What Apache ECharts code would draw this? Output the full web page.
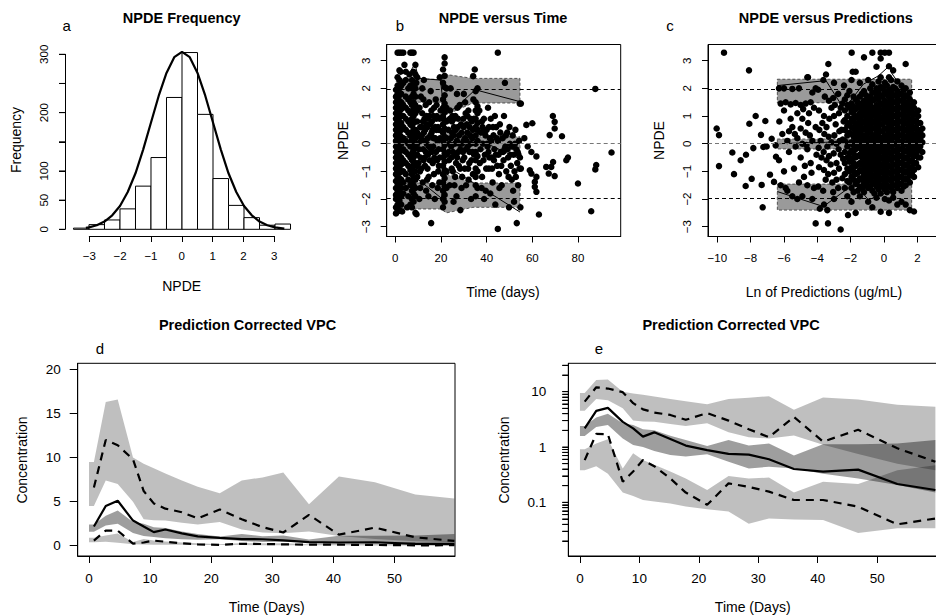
<!DOCTYPE html>
<html><head><meta charset="utf-8">
<script src="https://cdn.jsdelivr.net/npm/echarts@6/dist/echarts.min.js"></script>
<style>html,body{margin:0;padding:0;background:#fff}#c{width:936px;height:615px}</style>
</head><body><div id="c"></div>
<script>
// ---------------- DATA ----------------
// Panel a: NPDE histogram
const histBreaks = [-3.5,-3,-2.5,-2,-1.5,-1,-0.5,0,0.5,1,1.5,2,2.5,3,3.5];
const histCounts = [2,8,16,35,74,123,226,303,197,87,41,20,7,9];
const normCurveX = [-3.1,-3,-2.75,-2.5,-2.25,-2,-1.75,-1.5,-1.25,-1,-0.75,-0.5,-0.25,0,0.25,0.5,0.75,1,1.25,1.5,1.75,2,2.25,2.5,2.75,3,3.3];
const normCurveY = [2.5,3.4,6.9,13.3,24,40,64,96,137,183,229,268,295,304,295,268,229,183,137,96,64,40,24,13.3,6.9,3.4,1.3];
const aXTicks = [-3,-2,-1,0,1,2,3];
const aYTicks = [0,50,100,150,200,250,300];
const aYLabels = [0,50,100,200,300];

// Reference lines for NPDE panels
const npdeRefLines = [1.96, 0, -1.96];
const npdeYTicks = [-3,-2,-1,0,1,2,3];

// Panel b: NPDE vs time
const bXTicks = [0,20,40,60,80];
const bBandX   = [0.45, 20.0, 22.4, 34.0, 54.6];
const bUpperHi = [2.33, 2.33, 2.5, 2.36, 2.36];
const bUpperLo = [1.5, 1.5, 1.05, 1.47, 1.47];
const bMedHi   = [0.25, 0.25, 0.45, 0.25, 0.25];
const bMedLo   = [-0.25, -0.25, -0.45, -0.22, -0.22];
const bLowHi   = [-1.42, -1.42, -1.1, -1.42, -1.42];
const bLowLo   = [-2.36, -2.36, -2.5, -2.3, -2.3];
const bObsUpper  = [[0.45,1.9],[3.5,2.2],[8.6,2.88],[10.2,2.36],[19.8,2.3],[21.5,1.03],[27,1.34],[35,1.95],[54.6,1.52]];
const bObsMedian = [[0.45,0.3],[8.6,0.2],[19.8,0.1],[21.5,0.0],[35,0.05],[37.5,0.1],[54.6,-0.55]];
const bObsLower  = [[0.45,-1.9],[2.1,-1.37],[10.1,-1.3],[20.2,-1.97],[21.5,-1.2],[25.3,-0.95],[54.6,-2.47]];
const bColumns = [
 [0.3, [-2.52,-2.3,-2.0,-1.85,-1.6,-1.35,-1.1,-0.9,-0.7,-0.5,-0.3,-0.1,0.1,0.3,0.5,0.7,0.9,1.1,1.3,1.5,1.7,1.95]],
 [1.0, [-2.45,-2.2,-1.95,-1.7,-1.45,-1.2,-1.0,-0.8,-0.6,-0.4,-0.2,0.0,0.2,0.4,0.6,0.8,1.0,1.2,1.4,1.6,1.8,2.1,2.4,3.29]],
 [1.8, [-2.4,-2.05,-1.75,-1.5,-1.25,-1.05,-0.85,-0.65,-0.45,-0.25,-0.05,0.15,0.35,0.55,0.75,0.95,1.15,1.35,1.55,1.75,2.0,2.3,2.65,3.29]],
 [2.6, [-2.2,-1.9,-1.6,-1.3,-1.0,-0.75,-0.5,-0.25,0,0.25,0.5,0.75,1.0,1.25,1.5,1.8,2.1,3.29]],
 [3.5, [-1.8,-1.4,-1.0,-0.6,-0.2,0.2,0.6,1.0,1.4,2.2,3.29]],
 [4.6, [-1.6,-1.1,-0.7,-0.3,0.1,0.5,0.9,1.3,1.7,2.3,2.6]],
 [5.7, [-1.9,-1.3,-0.8,-0.4,0,0.4,0.8,1.2,1.6,2.0]],
 [6.6, [-2.2,-1.5,-0.95,-0.5,-0.1,0.3,0.7,1.1,1.5,2.1,3.29]],
 [7.3, [-2.3,-2.0,-1.7,-1.4,-1.1,-0.85,-0.6,-0.35,-0.1,0.15,0.4,0.65,0.9,1.15,1.4,1.7,2.0,2.3,3.29]],
 [8.0, [-2.1,-1.8,-1.5,-1.25,-1.0,-0.75,-0.5,-0.25,0,0.25,0.5,0.75,1.0,1.25,1.5,1.8,2.1,2.6,3.29]],
 [8.8, [-2.5,-1.9,-1.6,-1.3,-1.0,-0.7,-0.4,-0.1,0.2,0.5,0.8,1.1,1.4,1.7,2.0,2.5,2.85]],
 [9.6, [-1.2,-0.8,-0.4,0,0.4,0.8,1.2,2.4]],
 [20.9, [-2.3,-2.0,-1.7,-1.4,-1.1,-0.8,-0.5,-0.2,0.1,0.4,0.7,1.0,1.3,1.6,2.2,2.68]],
 [21.6, [-2.1,-1.85,-1.55,-1.25,-0.95,-0.65,-0.35,-0.05,0.25,0.55,0.85,1.15,1.45,1.75,2.05,2.45,2.9,3.12]],
 [22.4, [-1.6,-1.0,-0.4,0.2,0.8,1.3,2.0]],
 [35.2, [-1.9,-1.5,-1.2,-0.9,-0.6,-0.3,0,0.3,0.6,0.9,1.2,1.5,1.9]],
 [36.0, [-1.6,-1.0,-0.45,0.1,0.5,0.75,1.1,1.35,2.0]]
];
const bScatter = [
 [10.5,-2.0],[10.8,-1.0],[11.0,-0.5],[11.3,0.1],[11.5,0.6],[11.8,1.1],[12.2,-0.2],[12.5,0.4],[12.8,0.9],[12.5,2.3],[13.0,-0.8],[13.3,1.4],[13.8,0.0],[14.0,0.6],[14.3,-0.4],[14.6,-1.2],[15.0,1.0],[15.3,0.3],[15.7,-0.2],[15.7,-2.87],[16.0,0.8],[16.4,-0.7],[16.8,0.2],[17.0,1.3],[17.3,-2.0],[17.5,0.6],[17.8,-0.3],[18.2,1.0],[18.5,0.1],[18.8,-1.0],[19.2,0.5],[19.5,2.4],[19.5,-0.5],[13.5,-1.7],[11.8,2.0],[15.5,1.9],[16.2,-1.5],[10.3,0.3],[10.6,1.3],[12.0,-1.4],[13.6,0.7],[14.8,1.5],[16.6,-0.1],[18.0,0.5],[19.0,-0.2],[19.8,1.2],[12.9,-0.5],[14.2,0.2],[17.7,1.6],[18.6,-1.6],[11.2,1.7],[15.9,0.4],[10.2,-0.7],
 [10.4,-0.2],[10.9,0.6],[11.4,-0.9],[11.6,0.3],[12.1,0.8],[12.4,-0.6],[12.7,0.1],[13.1,0.5],[13.4,-0.3],[13.7,1.0],[14.1,-0.9],[14.4,0.9],[14.7,-0.1],[15.1,-0.6],[15.4,0.7],[15.8,1.2],[16.1,-0.3],[16.3,0.5],[16.7,1.0],[17.1,-0.5],[17.4,0.2],[17.9,0.9],[18.3,-0.6],[18.7,0.6],[19.1,-0.8],[19.4,0.9],[19.7,0.2],[10.9,-1.6],[13.9,-1.3],[16.9,-1.1],[18.1,1.4],[12.3,1.6],[14.5,-1.9],[19.3,-1.4],
 [23.3,0.5],[23.5,-0.6],[23.8,-1.5],[24.0,1.2],[24.5,-0.1],[24.8,0.8],[25.2,-1.0],[25.5,0.3],[26.0,-0.4],[26.3,1.0],[26.8,-1.9],[27.0,0.1],[27.4,0.6],[27.8,-0.8],[28.2,1.4],[28.5,-0.2],[29.0,0.4],[29.3,-1.2],[29.8,0.9],[30.2,-0.5],[30.5,0.2],[31.0,-1.5],[31.3,0.7],[31.7,-0.1],[32.0,1.2],[32.4,-0.7],[32.8,0.3],[33.2,-2.0],[33.5,0.8],[33.8,-0.3],[34.2,1.6],[34.1,2.44],[34.8,2.68],[25.5,-2.1],[28.5,-2.4],[30.0,1.8],[24.2,2.0],[23.6,0.0],[24.9,0.4],[26.5,0.5],[28.0,0.0],[29.5,-0.6],[31.5,0.4],[33.0,0.0],[26.2,-1.2],[30.8,1.1],[27.6,-0.3],[32.6,0.6],[25.8,0.9],[29.9,0.1],[33.9,0.5],[31.9,-0.9],[27.2,1.3],[24.6,-0.5],
 [23.4,-0.3],[23.9,0.9],[24.3,0.2],[24.7,-0.9],[25.0,1.0],[25.3,-0.3],[25.7,0.6],[26.1,0.0],[26.6,-0.7],[27.1,-0.5],[27.5,0.9],[27.9,0.3],[28.4,-0.9],[28.8,0.7],[29.2,0.0],[29.6,-0.3],[30.0,0.6],[30.4,-0.9],[30.9,-0.2],[31.2,0.1],[31.6,1.0],[32.2,0.0],[32.5,-0.3],[32.9,0.9],[33.3,-0.6],[33.7,0.2],[34.0,-1.1],[34.4,0.9],[34.5,-0.4],[25.9,-1.5],[29.0,-1.6],[32.1,-1.3],[27.0,1.8],[30.6,1.5],
 [37.0,-0.7],[37.5,0.4],[38.0,-1.2],[38.4,0.0],[38.8,0.9],[39.2,-0.4],[39.6,-1.7],[40.0,0.5],[40.4,-0.1],[41.0,-0.9],[41.4,0.2],[41.8,0.9],[42.2,-0.5],[42.6,-1.4],[43.0,0.3],[43.4,-0.2],[43.8,-2.2],[44.2,0.6],[44.6,-0.8],[45.0,0.1],[45.4,-1.1],[45.8,0.7],[46.2,-0.3],[46.6,-1.5],[47.0,0.2],[47.4,-0.6],[48.0,2.2],[48.2,-0.1],[48.6,-1.0],[49.0,0.4],[49.4,-0.5],[49.8,-2.3],[50.2,0.0],[50.6,-0.8],[51.0,-1.3],[51.4,0.3],[51.8,-0.4],[52.2,-1.0],[52.6,0.5],[53.0,-0.2],[53.4,-0.7],[53.8,-1.5],[54.2,0.1],[54.6,-0.5],[55.0,1.45],[54.5,1.45],[53.2,-2.87],[55.0,-0.9],[52.0,-2.1],[44.9,-3.08],[44.9,3.29],[54.8,-2.3],[38.2,0.6],[40.8,-0.3],[42.0,0.1],[44.0,-0.4],[46.0,0.4],[47.8,-0.2],[50.0,0.6],[39.5,0.3],[41.6,-1.8],[43.6,1.0],[36.8,1.2],[37.8,-1.6],[40.6,1.3],
 [37.3,-0.2],[37.9,0.8],[38.6,-0.6],[39.0,0.4],[39.8,-0.9],[40.2,0.0],[41.2,-0.5],[42.4,-0.9],[42.8,0.6],[43.2,-0.6],[44.4,0.2],[45.2,-0.4],[46.4,-0.8],[47.2,-0.3],[48.4,0.3],[49.2,-0.2],[50.4,-0.4],[51.2,-0.1],[52.4,0.0],[53.6,-0.3],[54.4,-0.9],[41.0,0.6],[45.6,-1.6],[49.6,-1.2],[52.8,-1.2],[38.9,-2.0],[47.6,1.0],[51.6,-1.7],
 [57.4,0.68],[60.0,0.74],[69.0,1.0],[69.8,0.79],[69.8,0.55],[67.6,0.31],[73.0,0.27],[59.6,-0.3],[61.8,-0.46],[53.9,-0.38],[75.6,-0.5],[74.9,-0.6],[69.1,-0.66],[68.3,-0.84],[66.1,-0.84],[67.2,-1.08],[69.8,-1.17],[58.9,-0.96],[59.6,-1.08],[61.8,-1.2],[61.1,-1.38],[61.1,-1.56],[61.8,-1.74],[80.0,-1.44],[87.6,-0.93],[88.0,-0.77],[94.7,-0.32],[87.6,1.98],[85.8,-2.44],[62.9,-2.56],[56.5,0.2],[58.0,-0.1],
 [2.3,2.6],[4.0,2.85],[9.2,2.2],[5.2,-2.3],[3.0,-2.45],[9.3,-2.55],[6.2,2.5]
];

// Panel c: NPDE vs log predictions
const cXTicks = [-10,-8,-6,-4,-2,0,2];
const cBandX   = [-6.4, 1.66];
const cUpperHi = [2.33, 2.33];
const cUpperLo = [1.48, 1.48];
const cMedHi   = [0.17, 0.17];
const cMedLo   = [-0.19, -0.19];
const cLowHi   = [-1.46, -1.46];
const cLowLo   = [-2.4, -2.4];
const cObsUpper  = [[-6.4,2.1],[-3.48,2.28],[-2.4,1.25],[-1.24,2.15],[-0.34,2.45],[0.3,2.8],[0.46,2.55],[1.66,1.5]];
const cObsMedian = [[-6.4,0.0],[-3.5,0.05],[-2.0,0.1],[-0.5,0.25],[0.5,0.3],[1.66,0.35]];
const cObsLower  = [[-6.4,-1.73],[-3.64,-2.27],[-1.74,-1.43],[-0.94,-2.03],[0.56,-1.67],[1.66,-1.37]];
const cColumns = [
 [-2.35,[-1.6,-1.1,-0.7,-0.3,0.1,0.5,0.85,1.2,1.6]],
 [-2.2, [-1.9,-1.35,-0.9,-0.5,-0.1,0.3,0.65,1.0,1.4,1.75]],
 [-2.075,[-1.4,-1.0,-0.65,-0.35,0.0,0.4,0.75,1.3,1.9]],
 [-1.95,[-2.1,-1.6,-1.2,-0.85,-0.55,-0.25,0.05,0.35,0.6,0.9,1.15,1.45,2.3]],
 [-1.825,[-1.75,-1.3,-1.0,-0.7,-0.35,-0.05,0.25,0.55,0.8,1.1,1.35,1.7]],
 [-1.7, [-2.5,-1.45,-1.1,-0.8,-0.5,-0.2,0.1,0.4,0.65,0.95,1.25,1.6,2.6]],
 [-1.575,[-1.7,-1.35,-1.05,-0.75,-0.45,-0.1,0.25,0.5,0.75,1.0,1.3,1.5]],
 [-1.45,[-1.9,-1.55,-1.25,-0.95,-0.7,-0.4,-0.15,0.1,0.35,0.6,0.85,1.1,1.35,1.7,2.2]],
 [-1.325,[-1.6,-1.3,-1.0,-0.75,-0.5,-0.25,0.0,0.25,0.5,0.75,1.0,1.2,1.45,1.8]],
 [-1.2, [-1.75,-1.45,-1.15,-0.9,-0.65,-0.4,-0.15,0.1,0.3,0.55,0.8,1.05,1.3,1.55,1.9,3.12]],
 [-1.075,[-1.5,-1.25,-1.0,-0.75,-0.5,-0.25,0.0,0.25,0.5,0.7,0.95,1.2,1.45,1.75]],
 [-0.95,[-2.1,-1.6,-1.35,-1.1,-0.85,-0.6,-0.35,-0.1,0.15,0.4,0.6,0.85,1.1,1.35,1.6,2.3]],
 [-0.825,[-1.55,-1.3,-1.05,-0.8,-0.55,-0.3,-0.05,0.2,0.45,0.7,0.9,1.15,1.4,1.7,2.0]],
 [-0.7, [-2.3,-1.7,-1.45,-1.2,-0.95,-0.7,-0.45,-0.2,0.05,0.3,0.55,0.75,1.0,1.25,1.55,1.85,2.15,3.29]],
 [-0.575,[-1.8,-1.4,-1.15,-0.9,-0.65,-0.4,-0.15,0.1,0.3,0.55,0.8,1.05,1.3,1.6,1.85]],
 [-0.45,[-1.95,-1.55,-1.3,-1.05,-0.8,-0.55,-0.3,-0.05,0.2,0.4,0.65,0.9,1.15,1.4,1.7,2.0,2.78]],
 [-0.325,[-1.65,-1.4,-1.1,-0.85,-0.6,-0.35,-0.15,0.1,0.35,0.6,0.85,1.1,1.3,1.6,1.9,2.25]],
 [-0.2, [-2.46,-1.8,-1.5,-1.25,-1.0,-0.75,-0.5,-0.25,0.0,0.2,0.45,0.7,0.95,1.2,1.45,1.75,2.05,2.4,3.08,3.29]],
 [-0.075,[-1.55,-1.3,-1.05,-0.8,-0.55,-0.3,-0.05,0.2,0.45,0.7,0.9,1.15,1.4,1.7,2.0]],
 [0.05, [-2.0,-1.65,-1.4,-1.15,-0.9,-0.65,-0.4,-0.15,0.1,0.3,0.55,0.8,1.05,1.3,1.55,1.85,2.2,3.29]],
 [0.175,[-1.75,-1.5,-1.25,-1.0,-0.75,-0.5,-0.25,0.05,0.3,0.55,0.8,1.0,1.25,1.5,1.8,2.1]],
 [0.3,  [-2.5,-2.05,-1.55,-1.3,-1.05,-0.8,-0.55,-0.3,-0.05,0.2,0.45,0.7,0.9,1.15,1.4,1.7,1.95,2.4,2.8,3.29]],
 [0.425,[-1.6,-1.35,-1.1,-0.85,-0.6,-0.35,-0.1,0.1,0.35,0.6,0.85,1.1,1.35,1.6,1.9,2.3]],
 [0.55, [-1.95,-1.75,-1.5,-1.25,-1.0,-0.75,-0.5,-0.25,0.0,0.25,0.5,0.75,1.0,1.25,1.5,1.75,2.05,2.65]],
 [0.675,[-1.5,-1.25,-1.0,-0.75,-0.5,-0.25,0.0,0.25,0.5,0.75,1.0,1.25,1.5,1.75,2.0]],
 [0.8,  [-2.2,-1.6,-1.35,-1.1,-0.85,-0.6,-0.35,-0.1,0.15,0.4,0.65,0.9,1.15,1.4,1.65,1.9,2.25]],
 [0.925,[-1.45,-1.2,-0.95,-0.7,-0.45,-0.2,0.05,0.3,0.55,0.8,1.05,1.3,1.55,1.8]],
 [1.05, [-2.1,-1.7,-1.45,-1.2,-0.95,-0.7,-0.45,-0.2,0.05,0.3,0.55,0.8,1.05,1.3,1.55,1.8,2.1]],
 [1.175,[-1.55,-1.3,-1.05,-0.8,-0.55,-0.3,-0.05,0.2,0.45,0.7,0.9,1.15,1.4,1.65,1.95]],
 [1.3,  [-2.2,-1.5,-1.25,-1.0,-0.75,-0.5,-0.25,0.0,0.25,0.5,0.75,1.0,1.25,1.5,1.75,2.0,2.88]],
 [1.425,[-1.3,-1.05,-0.8,-0.55,-0.3,-0.05,0.2,0.45,0.7,0.95,1.2,1.45,1.7]],
 [1.55, [-2.4,-1.4,-1.15,-0.9,-0.65,-0.4,-0.15,0.1,0.35,0.6,0.85,1.1,1.35,1.6,1.85]],
 [1.675,[-1.1,-0.85,-0.6,-0.35,-0.1,0.15,0.4,0.65,0.9,1.15,1.4]],
 [1.8,  [-2.45,-1.2,-0.95,-0.7,-0.45,-0.2,0.05,0.3,0.55,0.8,1.05,1.3,1.5]],
 [1.925,[-0.7,-0.4,-0.15,0.1,0.35,0.6,0.85,1.1]],
 [2.05, [-0.85,-0.5,-0.25,0.0,0.25,0.5,0.75,1.0,1.2]],
 [2.175,[-0.5,-0.1,0.2,0.45,0.75]],
 [2.3,  [-0.3,0.05,0.3,0.55]]
];
const cScatter = [
 [-9.6,3.29],[-10.04,0.55],[-9.9,0.31],[-9.9,-0.81],[-9.1,-0.32],[-9.0,-1.1],[-8.6,-0.6],[-8.28,-0.4],[-8.3,-1.53],[-8.1,2.65],[-8.08,0.72],[-7.94,-1.27],[-7.84,-0.16],[-7.7,1.0],[-7.38,0.32],[-7.34,-1.49],[-7.28,-2.3],[-7.24,-0.12],[-7.12,0.82],[-7.04,-0.1],[-6.84,-1.12],[-6.74,0.18],[-6.6,-1.38],[-6.48,-0.47],[-6.28,0.8],[-6.3,2.0],[-6.5,-0.06],
 [-6.2,1.45],[-5.9,1.5],[-5.6,1.42],[-5.3,1.47],[-5.0,1.4],[-4.7,1.45],[-4.4,1.5],[-6.0,2.0],[-5.5,1.98],[-5.1,2.0],[-4.6,2.4],[-4.3,1.85],[-4.1,2.0],
 [-6.1,0.35],[-5.8,0.1],[-5.7,-0.3],[-5.5,0.6],[-5.4,-0.9],[-5.2,0.2],[-5.0,-0.5],[-4.9,0.9],[-4.8,-1.2],[-4.7,0.4],[-4.6,-0.2],[-4.5,1.1],[-4.4,-0.7],[-4.3,0.1],[-4.2,-1.6],[-4.1,0.6],[-4.05,-0.4],
 [-6.3,-0.6],[-6.0,-1.0],[-5.9,-1.6],[-5.6,0.9],[-5.3,-0.1],[-5.1,-1.4],[-4.9,0.0],[-4.75,-0.8],[-4.55,0.75],[-4.35,-1.05],[-4.2,1.3],
 [-6.2,-1.5],[-5.8,-1.7],[-5.5,-1.9],[-5.2,-2.0],[-4.9,-1.9],[-4.6,-1.5],[-4.3,-2.0],[-5.7,0.45],[-5.35,0.35],[-5.0,0.55],[-4.65,-0.05],[-4.45,0.3],[-6.0,1.2],[-5.2,1.1],[-4.85,1.25],[-4.56,2.4],
 [-3.95,-1.55],[-3.9,-0.85],[-3.92,-0.15],[-3.88,0.5],[-3.9,1.2],[-3.95,1.95],[-3.85,-2.35],
 [-3.65,-1.7],[-3.6,-0.95],[-3.62,-0.3],[-3.58,0.35],[-3.6,1.0],[-3.55,1.7],[-3.64,2.3],[-3.6,-2.2],
 [-3.35,-1.1],[-3.3,-0.45],[-3.32,0.25],[-3.28,0.9],[-3.3,1.55],[-3.34,2.88],[-3.48,2.5],[-3.36,-2.88],[-3.4,-2.4],
 [-3.05,-1.75],[-3.0,-1.05],[-3.02,-0.35],[-2.98,0.3],[-3.0,1.0],[-3.05,1.65],[-3.0,2.2],[-3.0,-2.0],
 [-2.75,-1.6],[-2.7,-0.9],[-2.72,-0.2],[-2.68,0.45],[-2.7,1.1],[-2.75,1.8],[-2.6,-3.1],
 [-2.5,-1.25],[-2.45,-0.55],[-2.48,0.15],[-2.42,0.8],[-2.5,1.45],[-2.4,2.1],
 [-3.8,0.1],[-3.5,-1.3],[-3.2,-0.75],[-2.9,0.7],[-2.6,-0.4],[-3.7,0.75],[-3.15,1.3],[-2.85,-1.3],[-2.55,0.5],[-4.1,-2.88],[-2.16,-2.58],[-1.94,3.29],[-1.88,2.6],[-3.45,-0.6],[-2.85,0.0],
 [-3.75,-0.5],[-3.45,0.6],[-3.15,0.05],[-2.85,-0.7],[-2.6,1.3],[-3.1,-1.4],[-2.65,0.1],[-3.4,-0.1],[-2.95,1.4]
];

// Panels d and e: prediction corrected VPC (same data, linear and log scale)
const vpcXTicks = [0,10,20,30,40,50];
const dYTicks = [0,5,10,15,20];
const eYLabelValues = [0.1,1,10];
const eYTickValues = [0.02,0.03,0.04,0.05,0.06,0.07,0.08,0.09,0.1,0.2,0.3,0.4,0.5,0.6,0.7,0.8,0.9,1,2,3,4,5,6,7,8,9,10,20,30];
const vpcBandX = [0.0, 0.8, 2.74, 4.7, 7.2, 8.95, 10.6, 12.5, 15.2, 17.8, 21.4, 25.0, 28.4, 31.8, 36.0, 40.9, 46.8, 53.4, 59.8];
const vpcP95Hi = [9.5, 9.5, 16.3, 16.6, 10.0, 9.3, 8.8, 8.2, 7.4, 6.7, 5.95, 7.4, 7.75, 8.3, 4.7, 7.85, 7.2, 5.8, 5.35];
const vpcP95Lo = [4.5, 4.5, 7.4, 7.0, 5.0, 3.0, 2.9, 2.85, 2.6, 2.4, 2.7, 1.85, 1.5, 1.42, 1.62, 1.1, 0.75, 0.5, 0.38];
const vpcMedHi = [2.4, 2.4, 3.4, 4.0, 2.7, 2.5, 2.1, 2.0, 1.6, 1.34, 1.04, 1.34, 1.06, 1.16, 0.7, 1.12, 1.12, 1.16, 1.34];
const vpcMedLo = [1.58, 1.58, 2.3, 2.5, 1.43, 1.09, 1.0, 0.85, 0.72, 0.67, 0.74, 0.54, 0.41, 0.44, 0.41, 0.33, 0.27, 0.206, 0.15];
const vpcP5Hi  = [0.91, 0.91, 1.16, 1.38, 0.41, 0.77, 0.58, 0.48, 0.36, 0.27, 0.167, 0.30, 0.27, 0.28, 0.15, 0.236, 0.214, 0.38, 0.47];
const vpcP5Lo  = [0.38, 0.38, 0.45, 0.33, 0.15, 0.13, 0.11, 0.103, 0.095, 0.084, 0.075, 0.068, 0.041, 0.051, 0.049, 0.048, 0.028, 0.034, 0.034];
const vpcTime      = [0.8, 2.74, 4.7, 7.2, 8.95, 10.6, 12.5, 15.2, 17.8, 21.4, 25.0, 28.4, 31.8, 36.0, 40.9, 46.8, 53.4, 59.8];
const vpcObsMedian = [2.17, 4.5, 5.1, 2.85, 2.17, 1.54, 1.84, 1.4, 1.06, 0.88, 0.75, 0.73, 0.6, 0.40, 0.36, 0.39, 0.214, 0.167];
const vpcObsP95    = [6.6, 12.0, 11.4, 9.8, 6.2, 4.8, 4.2, 3.8, 3.1, 4.1, 3.0, 2.1, 1.5, 3.5, 1.25, 2.05, 0.95, 0.54];
const vpcObsP5     = [0.58, 1.72, 1.70, 0.236, 0.36, 0.58, 0.45, 0.27, 0.15, 0.09, 0.22, 0.19, 0.156, 0.11, 0.11, 0.0835, 0.04, 0.051];

// ---------------- BUILD ----------------
const FONT = '"Liberation Sans", Arial, Helvetica, sans-serif';
const fmtMinus = v => (v < 0 ? '\u2212' + Math.abs(v) : String(v));
const zip = (xs, ys) => xs.map((x, i) => [x, ys[i]]);
const flattenCols = cols => { const out = []; cols.forEach(c => c[1].forEach(y => out.push([c[0], y]))); return out; };

function axis(gridIndex, min, max, o) {
  o = o || {};
  return {
    type: o.type || 'value', gridIndex: gridIndex, min: min, max: max, show: o.show !== false,
    position: o.position, logBase: 10,
    axisLine: {show: o.line !== false, onZero: false, lineStyle: {color: '#000', width: 1}},
    axisTick: {show: !!o.ticks, length: o.tickLen || 6, customValues: o.ticks, lineStyle: {color: '#000', width: 1}},
    axisLabel: {show: !!o.labels, customValues: o.labels, margin: o.margin || 15, rotate: o.rotate || 0,
      formatter: o.fmt || fmtMinus, color: '#000', fontFamily: FONT, fontSize: o.fs || 11.5, hideOverlap: false},
    splitLine: {show: false}, minorTick: {show: false}, splitArea: {show: false}, axisPointer: {show: false}
  };
}
function gridBox(left, top, width, height, border) {
  return {left: left, top: top, width: width, height: height, containLabel: false, outerBoundsMode: 'none',
    show: !!border, borderColor: '#000', borderWidth: 1, backgroundColor: 'transparent'};
}
function bandSeries(xi, yi, xs, lo, hi, style) {
  return {
    type: 'custom', xAxisIndex: xi, yAxisIndex: yi, z: 1, silent: true, clip: true,
    data: [[xs[0], hi[0]]], encode: {x: 0, y: 1},
    renderItem: function (params, api) {
      const pts = [];
      for (let i = 0; i < xs.length; i++) pts.push(api.coord([xs[i], hi[i]]));
      for (let i = xs.length - 1; i >= 0; i--) pts.push(api.coord([xs[i], lo[i]]));
      return {type: 'polygon', shape: {points: pts}, style: style};
    }
  };
}
// short outward tick marks on a left axis, placed through the axis scale
function tickSeries(xi, yi, xVal, values, len) {
  return {
    type: 'custom', xAxisIndex: xi, yAxisIndex: yi, z: 5, silent: true, clip: false,
    data: values.map(v => [xVal, v]), encode: {x: 0, y: 1},
    renderItem: function (params, api) {
      const p = api.coord([api.value(0), api.value(1)]);
      return {type: 'line', shape: {x1: p[0] - len, y1: p[1], x2: p[0], y2: p[1]}, style: {stroke: '#000', lineWidth: 1}};
    }
  };
}
function lineSeries(xi, yi, data, style, z) {
  return {type: 'line', xAxisIndex: xi, yAxisIndex: yi, data: data, showSymbol: false, symbol: 'none',
    lineStyle: style, z: z || 3, silent: true, clip: true};
}
function refLines(xi, yi) {
  return {type: 'scatter', xAxisIndex: xi, yAxisIndex: yi, data: [], z: 1, silent: true,
    markLine: {silent: true, symbol: ['none', 'none'], label: {show: false}, animation: false,
      data: npdeRefLines.map(v => ({yAxis: v, lineStyle: {color: v === 0 ? '#777' : '#000', type: [4, 3], width: 1}}))}};
}
function scatterSeries(xi, yi, data) {
  return {type: 'scatter', xAxisIndex: xi, yAxisIndex: yi, data: data, symbol: 'circle', symbolSize: 6.5,
    itemStyle: {color: '#000', opacity: 1}, z: 2, silent: true};
}

const npdeBandStyle = {fill: '#9a9a9a', stroke: '#333', lineWidth: 0.8, lineDash: [3, 2]};
const thin = {color: '#000', width: 1};
const lightBand = {fill: 'rgba(0,0,0,0.25)'};
const darkBand = {fill: 'rgba(0,0,0,0.38)'};
const solid2 = {color: '#000', width: 2.2};
const dash2 = {color: '#000', width: 2.2, type: [8, 6]};

const histData = histCounts.map((c, i) => [histBreaks[i], histBreaks[i + 1], c]);

const eLogMin = 0.0107, eLogMax = 32.6, eXMin = -1.96;
const eTickAxisFmt = v => { const r = Math.round(v); return r === -1 ? '0.1' : r === 0 ? '1' : r === 1 ? '10' : ''; };

function txt(text, x, y, weight, size, vertical) {
  return {type: 'text', x: x, y: y, rotation: vertical ? Math.PI / 2 : 0, silent: true, z: 10,
    style: {text: text, fill: '#000', fontFamily: FONT, fontWeight: weight, fontSize: size,
      align: 'center', verticalAlign: 'middle', textAlign: 'center', textVerticalAlign: 'middle'}};
}

const option = {
  animation: false,
  backgroundColor: '#fff',
  grid: [
    gridBox(64.8, 46, 234.4, 190, false),   // 0 a data
    gridBox(89.3, 200, 185, 36, false),     // 1 a x axis
    gridBox(65, 54.3, 100, 175, false),     // 2 a y axis
    gridBox(386.7, 44.5, 234, 192, true),   // 3 b
    gridBox(708, 44.5, 236, 192, true),     // 4 c
    gridBox(77.7, 363.3, 377.3, 192.7, true), // 5 d
    gridBox(568.3, 363.3, 368.7, 192.7, true) // 6 e
  ],
  xAxis: [
    axis(0, -3.78, 3.78, {show: false}),
    axis(1, -3, 3, {ticks: aXTicks, labels: aXTicks, margin: 14}),
    axis(2, 0, 1, {show: false}),
    axis(3, -3.77, 98.72, {ticks: bXTicks, labels: bXTicks}),
    axis(4, -10.56, 3.6, {ticks: cXTicks, labels: cXTicks}),
    axis(5, -1.85, 59.9, {ticks: vpcXTicks, labels: vpcXTicks, fs: 13.5, tickLen: 7}),
    axis(6, eXMin, 60.07, {ticks: vpcXTicks, labels: vpcXTicks, fs: 13.5, tickLen: 7})
  ],
  yAxis: [
    axis(0, -11.49, 314.2, {show: false}),
    axis(1, 0, 1, {show: false}),
    axis(2, 0, 300, {ticks: aYTicks, labels: aYLabels, rotate: 90}),
    axis(3, -3.354, 3.585, {ticks: npdeYTicks, labels: npdeYTicks, rotate: 90}),
    axis(4, -3.354, 3.585, {ticks: npdeYTicks, labels: npdeYTicks, rotate: 90}),
    axis(5, -1.17, 20.7, {ticks: dYTicks, labels: dYTicks, fs: 13.5, tickLen: 8, margin: 17}),
    axis(6, eLogMin, eLogMax, {type: 'log', show: false}),
    axis(6, Math.log10(eLogMin), Math.log10(eLogMax), {position: 'left',
      ticks: eYTickValues.map(Math.log10), labels: eYLabelValues.map(Math.log10),
      fmt: eTickAxisFmt, fs: 13.5, tickLen: 6, margin: 22})
  ],
  series: [
    // a
    {type: 'custom', xAxisIndex: 0, yAxisIndex: 0, data: histData, encode: {x: [0, 1], y: 2}, silent: true, z: 1,
      renderItem: function (params, api) {
        const p0 = api.coord([api.value(0), 0]);
        const p1 = api.coord([api.value(1), api.value(2)]);
        return {type: 'rect', shape: {x: p0[0], y: p1[1], width: p1[0] - p0[0], height: p0[1] - p1[1]},
          style: {fill: '#fff', stroke: '#000', lineWidth: 1}};
      }},
    lineSeries(0, 0, zip(normCurveX, normCurveY), {color: '#000', width: 2.2}, 3),
    tickSeries(2, 2, 0, aYTicks, 6),
    // b
    bandSeries(3, 3, bBandX, bUpperLo, bUpperHi, npdeBandStyle),
    bandSeries(3, 3, bBandX, bMedLo, bMedHi, npdeBandStyle),
    bandSeries(3, 3, bBandX, bLowLo, bLowHi, npdeBandStyle),
    refLines(3, 3),
    scatterSeries(3, 3, flattenCols(bColumns).concat(bScatter)),
    lineSeries(3, 3, bObsUpper, thin),
    lineSeries(3, 3, bObsMedian, thin),
    lineSeries(3, 3, bObsLower, thin),
    // c
    bandSeries(4, 4, cBandX, cUpperLo, cUpperHi, npdeBandStyle),
    bandSeries(4, 4, cBandX, cMedLo, cMedHi, npdeBandStyle),
    bandSeries(4, 4, cBandX, cLowLo, cLowHi, npdeBandStyle),
    refLines(4, 4),
    scatterSeries(4, 4, flattenCols(cColumns).concat(cScatter)),
    lineSeries(4, 4, cObsUpper, thin),
    lineSeries(4, 4, cObsMedian, thin),
    lineSeries(4, 4, cObsLower, thin),
    // d
    bandSeries(5, 5, vpcBandX, vpcP95Lo, vpcP95Hi, lightBand),
    bandSeries(5, 5, vpcBandX, vpcP5Lo, vpcP5Hi, lightBand),
    bandSeries(5, 5, vpcBandX, vpcMedLo, vpcMedHi, darkBand),
    lineSeries(5, 5, zip(vpcTime, vpcObsMedian), solid2),
    lineSeries(5, 5, zip(vpcTime, vpcObsP95), dash2),
    lineSeries(5, 5, zip(vpcTime, vpcObsP5), dash2),
    // e
    bandSeries(6, 6, vpcBandX, vpcP95Lo, vpcP95Hi, lightBand),
    bandSeries(6, 6, vpcBandX, vpcP5Lo, vpcP5Hi, lightBand),
    bandSeries(6, 6, vpcBandX, vpcMedLo, vpcMedHi, darkBand),
    lineSeries(6, 6, zip(vpcTime, vpcObsMedian), solid2),
    lineSeries(6, 6, zip(vpcTime, vpcObsP95), dash2),
    lineSeries(6, 6, zip(vpcTime, vpcObsP5), dash2),
    tickSeries(6, 6, eXMin, eYTickValues, 6)
  ],
  graphic: [
    txt('NPDE Frequency', 181.7, 18, 'bold', 14.5),
    txt('NPDE versus Time', 503, 18, 'bold', 14.5),
    txt('NPDE versus Predictions', 825.8, 18, 'bold', 14.5),
    txt('Prediction Corrected VPC', 247.5, 324.5, 'bold', 14.5),
    txt('Prediction Corrected VPC', 731, 324.5, 'bold', 14.5),
    txt('a', 66.7, 25, 'normal', 15),
    txt('b', 400, 25, 'normal', 15),
    txt('c', 670, 25, 'normal', 15),
    txt('d', 100, 348, 'normal', 15),
    txt('e', 599, 348, 'normal', 15),
    txt('NPDE', 181.7, 286, 'normal', 14),
    txt('Time (days)', 503, 292, 'normal', 14),
    txt('Ln of Predictions (ug/mL)', 824, 292, 'normal', 14),
    txt('Time (Days)', 266.7, 606.5, 'normal', 14),
    txt('Time (Days)', 752.7, 606.5, 'normal', 14),
    txt('Frequency', 16, 140, 'normal', 14, true),
    txt('NPDE', 342.5, 140.5, 'normal', 14, true),
    txt('NPDE', 659, 140.5, 'normal', 14, true),
    txt('Concentration', 21.5, 460, 'normal', 14, true),
    txt('Concentration', 504, 460, 'normal', 14, true)
  ]
};
const chart = echarts.init(document.getElementById('c'), null, {renderer: 'svg', width: 936, height: 615});
chart.setOption(option);
</script>
</body></html>
